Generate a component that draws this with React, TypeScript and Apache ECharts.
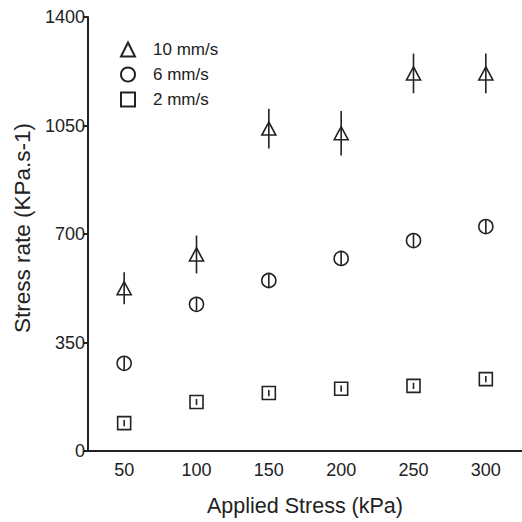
import React, { useEffect, useRef } from "react";
import * as echarts from "echarts";

const xCategories = ["50", "100", "150", "200", "250", "300"];
const yTicks = { min: 0, max: 1400, interval: 350 };

const fastName = "10 mm/s";
const fastValues = [525, 634, 1040, 1025, 1218, 1218];
const fastErrors = [52, 61, 64, 72, 64, 64];

const mediumName = "6 mm/s";
const mediumValues = [283, 473, 550, 621, 679, 724];
const mediumErrors = [21, 21, 21, 21, 21, 21];

const slowName = "2 mm/s";
const slowValues = [90, 158, 187, 201, 210, 232];
const slowErrors = [10, 10, 10, 10, 10, 10];

const INK = "#222";
const FONT = "Liberation Sans, Arial, sans-serif";

function errorSeries(values: number[], errors: number[]) {
  return {
    type: "custom",
    silent: true,
    z: 3,
    data: xCategories.map((c, i) => [i, values[i] - errors[i], values[i] + errors[i]]),
    encode: { x: 0, y: [1, 2] },
    renderItem: (params: any, api: any) => {
      const lo = api.coord([api.value(0), api.value(1)]);
      const hi = api.coord([api.value(0), api.value(2)]);
      return {
        type: "line",
        shape: { x1: lo[0], y1: lo[1], x2: hi[0], y2: hi[1] },
        style: { stroke: INK, lineWidth: 1.6 },
      };
    },
  };
}

function pointSeries(name: string, values: number[], symbol: string, size: any) {
  return {
    name,
    type: "scatter",
    symbol,
    symbolSize: size,
    z: 4,
    data: xCategories.map((c, i) => [c, values[i]]),
    itemStyle: { color: "rgba(255,255,255,0)", borderColor: INK, borderWidth: 1.6, opacity: 1 },
  };
}

export default function App() {
  const ref = useRef<HTMLDivElement>(null);
  useEffect(() => {
    if (!ref.current) return;
    const chart = echarts.init(ref.current, null, { renderer: "svg" });
    chart.setOption({
      animation: false,
      backgroundColor: "#fff",
      textStyle: { fontFamily: FONT },
      grid: { left: 88, right: 0, top: 17, bottom: 70 },
      legend: {
        orient: "vertical",
        left: 120,
        top: 41,
        padding: 0,
        itemWidth: 14,
        itemHeight: 14,
        itemGap: 8,
        textStyle: {
          fontFamily: FONT,
          fontSize: 17,
          lineHeight: 17,
          color: INK,
          padding: [0, 0, 0, 13],
        },
        data: [fastName, mediumName, slowName],
      },
      xAxis: {
        type: "category",
        data: xCategories,
        boundaryGap: true,
        name: "Applied Stress (kPa)",
        nameLocation: "middle",
        nameGap: 44,
        nameTextStyle: { fontFamily: FONT, fontSize: 21.5, color: INK },
        axisLine: { lineStyle: { color: INK, width: 2 } },
        axisTick: { show: false },
        axisLabel: { fontFamily: FONT, fontSize: 18, color: INK, margin: 10 },
        splitLine: { show: false },
      },
      yAxis: {
        type: "value",
        min: yTicks.min,
        max: yTicks.max,
        interval: yTicks.interval,
        name: "Stress rate (KPa.s-1)",
        nameLocation: "middle",
        nameGap: 54,
        nameTextStyle: { fontFamily: FONT, fontSize: 22.5, color: INK, padding: [0, 0, 0, 12] },
        axisLine: { show: true, lineStyle: { color: INK, width: 2 } },
        axisTick: { show: true, length: 5, lineStyle: { color: INK, width: 2 } },
        axisLabel: {
          fontFamily: FONT,
          fontSize: 18,
          color: INK,
          margin: 3,
          formatter: (v: number) => String(v),
        },
        splitLine: { show: false },
      },
      series: [
        errorSeries(fastValues, fastErrors),
        errorSeries(mediumValues, mediumErrors),
        errorSeries(slowValues, slowErrors),
        pointSeries(fastName, fastValues, "triangle", [14, 13]),
        pointSeries(mediumName, mediumValues, "circle", 14),
        pointSeries(slowName, slowValues, "rect", 13),
      ],
    });
    return () => chart.dispose();
  }, []);
  return (
    <div
      ref={ref}
      style={{ position: "fixed", left: 0, top: 0, width: 522, height: 522 }}
    />
  );
}
